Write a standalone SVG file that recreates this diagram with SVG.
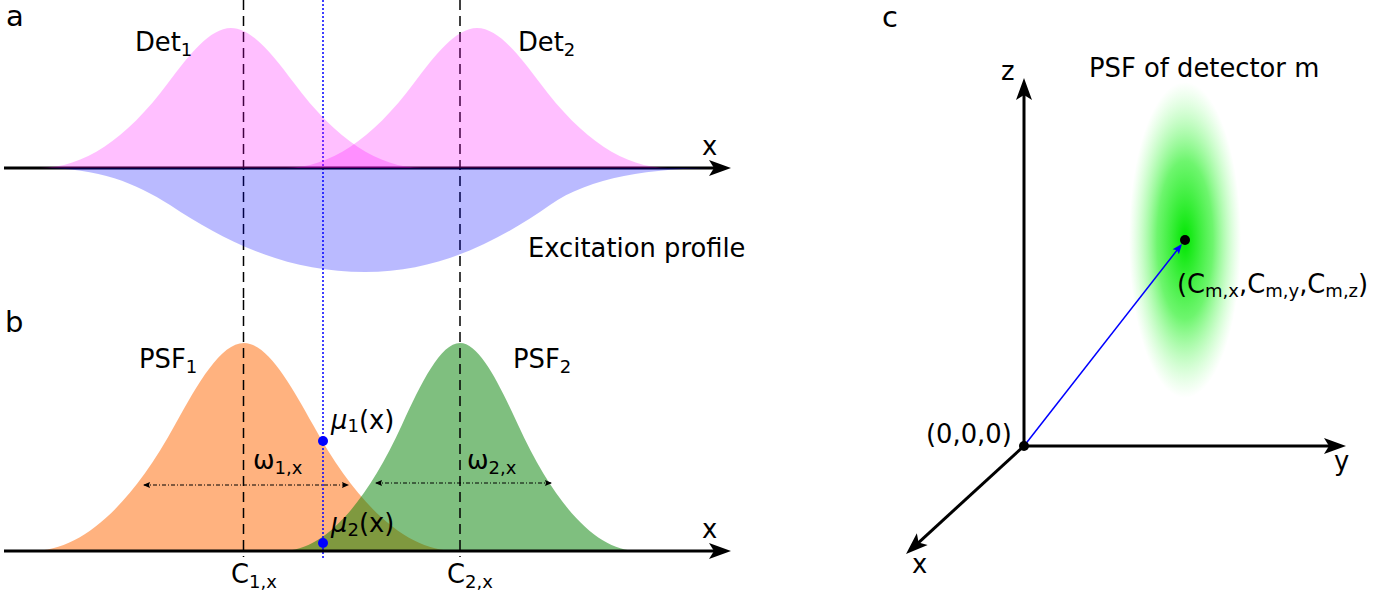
<svg xmlns="http://www.w3.org/2000/svg" width="1396" height="597" viewBox="0 0 1396 597">
<style>
  text { font-family: "DejaVu Sans", "Liberation Sans", sans-serif; fill: #000; }
  .lbl { font-size: 25.8px; }
  .panel { font-size: 29px; }
  .sub { font-size: 18px; }
  .axis { stroke: #000; stroke-width: 3; fill: none; }
  .dash { stroke: #000; stroke-width: 1.5; stroke-dasharray: 10,6; fill: none; }
  .dot { stroke: #0000ff; stroke-width: 1.5; stroke-dasharray: 2,2; fill: none; }
  .dim { stroke: #000; stroke-width: 1; stroke-dasharray: 4,2,1,2; fill: none; }
  .det { fill: #ff00ff; fill-opacity: 0.25; }
  .exc { fill: #0000ff; fill-opacity: 0.27; }
  .psf1 { fill: #ff6600; fill-opacity: 0.5; }
  .psf2 { fill: #008000; fill-opacity: 0.5; }
</style>
<defs>
  <marker id="arrowBlack" viewBox="-15 -10 30 20" markerWidth="30" markerHeight="20" refX="0" refY="0" orient="auto" markerUnits="userSpaceOnUse">
    <path d="M10,0 L-12,-8 L-7,0 L-12,8 Z" fill="#000"/>
  </marker>
  <marker id="arrowSmall" viewBox="-8 -5 16 10" markerWidth="16" markerHeight="10" refX="0" refY="0" orient="auto-start-reverse" markerUnits="userSpaceOnUse">
    <path d="M1,0 L-6,-3 L-5,0 L-6,3 Z" fill="#000"/>
  </marker>
  <marker id="arrowBlue" viewBox="-10 -6 20 12" markerWidth="20" markerHeight="12" refX="0" refY="0" orient="auto" markerUnits="userSpaceOnUse">
    <path d="M2,0 L-8,-4 L-6,0 L-8,4 Z" fill="#0000ff"/>
  </marker>
  <radialGradient id="psfGlow" cx="0.5" cy="0.5" r="0.5">
    <stop offset="0" stop-color="#00e600" stop-opacity="1"/>
    <stop offset="0.5" stop-color="#20f020" stop-opacity="0.65"/>
    <stop offset="1" stop-color="#70ff70" stop-opacity="0"/>
  </radialGradient>
</defs>

<!-- vertical guide lines, upper part (under panel a fills) -->
<g id="guides-top">
  <line class="dash" x1="243.5" y1="0" x2="243.5" y2="300"/>
  <line class="dash" x1="460" y1="0" x2="460" y2="300"/>
  <line class="dot" x1="323" y1="0" x2="323" y2="300"/>
</g>

<g id="panel-a">
  <text class="panel" x="6" y="26">a</text>
  <g id="axis-a">
    <line class="axis" x1="4" y1="168" x2="721" y2="168" marker-end="url(#arrowBlack)"/>
    <text class="lbl" x="702" y="155">x</text>
  </g>
  <g id="det1">
    <path class="det" d="M40,168 C83,168 126,139.7 168,83.1 C189,54.8 210,28 231,28 C252,28 273,54.8 294,83.1 C336,139.7 379,168 422,168 Z"/>
    <text class="lbl" x="135" y="51">Det<tspan class="sub" dy="5">1</tspan></text>
  </g>
  <g id="det2">
    <path class="det" d="M286,168 C329,168 372,139.7 414,83.1 C435,54.8 456,28 477,28 C498,28 519,54.8 540,83.1 C582,139.7 625,168 668,168 Z"/>
    <text class="lbl" x="518" y="51">Det<tspan class="sub" dy="5">2</tspan></text>
  </g>
  <g id="excitation">
    <path class="exc" d="M40,168 C100,168 135,183 170,205 C230,245 290,272 365,272 C440,272 500,240 550,205 C590,177 650,168 722,168 Z"/>
    <text class="lbl" x="528" y="257">Excitation profile</text>
  </g>
</g>

<g id="panel-b">
  <text class="panel" x="5" y="332">b</text>
  <g id="psf1">
    <path class="psf1" d="M32,551 C80,551 129,508.9 175,424.8 C198,382.8 221,343 244,343 C267,343 290,382.8 313,424.8 C359,508.9 408,551 456,551 Z"/>
    <text class="lbl" x="139" y="368">PSF<tspan class="sub" dy="5">1</tspan></text>
  </g>
  <g id="psf2">
    <path class="psf2" d="M282,551 C322,551 363.3,508.9 402,424.8 C421.3,382.8 440.7,343 460,343 C479.3,343 498.7,382.8 518,424.8 C556.7,508.9 598,551 638,551 Z"/>
    <text class="lbl" x="513" y="368">PSF<tspan class="sub" dy="5">2</tspan></text>
  </g>
  <g id="guides-bottom">
    <line class="dash" x1="243.5" y1="300" x2="243.5" y2="557"/>
    <line class="dash" x1="460" y1="300" x2="460" y2="557"/>
    <line class="dot" x1="323" y1="300" x2="323" y2="558"/>
  </g>
  <g id="axis-b">
    <line class="axis" x1="4" y1="551" x2="721" y2="551" marker-end="url(#arrowBlack)"/>
    <text class="lbl" x="702" y="538">x</text>
  </g>
  <g id="width1">
    <line class="dim" x1="144" y1="485" x2="348" y2="485" marker-start="url(#arrowSmall)" marker-end="url(#arrowSmall)"/>
    <text class="lbl" x="253" y="469">ω<tspan class="sub" dy="5">1,x</tspan></text>
  </g>
  <g id="width2">
    <line class="dim" x1="376" y1="483" x2="551" y2="483" marker-start="url(#arrowSmall)" marker-end="url(#arrowSmall)"/>
    <text class="lbl" x="467" y="469">ω<tspan class="sub" dy="5">2,x</tspan></text>
  </g>
  <g id="mu1">
    <circle cx="323" cy="441" r="5" fill="#0000ff"/>
    <text class="lbl" x="331" y="429"><tspan font-style="italic">μ</tspan><tspan class="sub" dy="3">1</tspan><tspan dy="-3">(x)</tspan></text>
  </g>
  <g id="mu2">
    <circle cx="323" cy="543" r="5" fill="#0000ff"/>
    <text class="lbl" x="331" y="532"><tspan font-style="italic">μ</tspan><tspan class="sub" dy="4">2</tspan><tspan dy="-4">(x)</tspan></text>
  </g>
  <g id="c1x">
    <text class="lbl" x="231" y="583">C<tspan class="sub" dy="5">1,x</tspan></text>
  </g>
  <g id="c2x">
    <text class="lbl" x="447" y="583">C<tspan class="sub" dy="5">2,x</tspan></text>
  </g>
</g>

<g id="panel-c">
  <text class="panel" x="882" y="27">c</text>
  <g id="psf-m">
    <ellipse cx="1185" cy="240" rx="56" ry="158" fill="url(#psfGlow)"/>
    <text class="lbl" x="1089" y="77">PSF of detector m</text>
  </g>
  <g id="connectors">
    <line class="axis" x1="1024" y1="446" x2="1024" y2="88" marker-end="url(#arrowBlack)"/>
    <line class="axis" x1="1024" y1="446" x2="1336" y2="446" marker-end="url(#arrowBlack)"/>
    <line class="axis" x1="1024" y1="446" x2="913.4" y2="547.3" marker-end="url(#arrowBlack)"/>
    <line x1="1024" y1="446" x2="1180.7" y2="245.5" stroke="#0000ff" stroke-width="1.5" marker-end="url(#arrowBlue)"/>
  </g>
  <g id="origin">
    <circle cx="1024" cy="446" r="5" fill="#000"/>
    <text class="lbl" x="926" y="443">(0,0,0)</text>
  </g>
  <g id="center-m">
    <circle cx="1185" cy="240" r="5" fill="#000"/>
    <text class="lbl" x="1177" y="293">(C<tspan class="sub" dy="4">m,x</tspan><tspan dy="-4">,C</tspan><tspan class="sub" dy="4">m,y</tspan><tspan dy="-4">,C</tspan><tspan class="sub" dy="4">m,z</tspan><tspan dy="-4">)</tspan></text>
  </g>
  <text class="lbl" x="1001" y="80">z</text>
  <text class="lbl" x="1334" y="470">y</text>
  <text class="lbl" x="912" y="573">x</text>
</g>
</svg>
